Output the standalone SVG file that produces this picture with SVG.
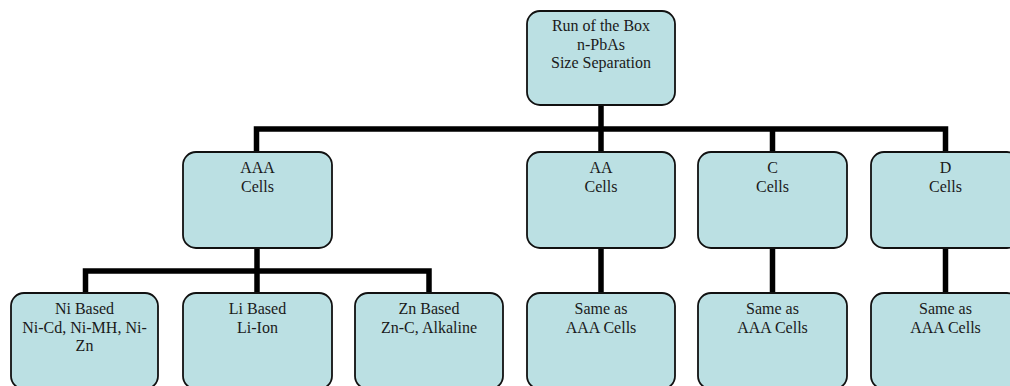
<svg xmlns="http://www.w3.org/2000/svg" width="1010" height="386" viewBox="0 0 1010 386">
  <style>
    .box { fill: #BBE0E3; stroke: #111; stroke-width: 1.8; }
    .lbl { font-family: "Liberation Serif", "Times New Roman", serif; font-size: 16px; fill: #1a1a1a; text-anchor: middle; }
    .wire { fill: none; stroke: #000; stroke-width: 5.5; stroke-linejoin: miter; stroke-linecap: butt; }
  </style>
  <rect width="1010" height="386" fill="#ffffff"/>

  <!-- connectors -->
  <g id="connectors">
    <path class="wire" d="M601 105 V152"/>
    <path class="wire" d="M256.5 152 V129 H945.5 V152"/>
    <path class="wire" d="M772.5 129 V152"/>
    <path class="wire" d="M257 248 V293"/>
    <path class="wire" d="M85.5 293 V271 H429 V293"/>
    <path class="wire" d="M601 248 V293"/>
    <path class="wire" d="M772.5 248 V293"/>
    <path class="wire" d="M945.5 248 V293"/>
  </g>

  <!-- root -->
  <g id="node-root">
    <rect class="box" x="527" y="11" width="148" height="94" rx="13"/>
    <text class="lbl" x="601" y="31">Run of the Box</text>
    <text class="lbl" x="601" y="49.5">n-PbAs</text>
    <text class="lbl" x="601" y="68">Size Separation</text>
  </g>

  <!-- second level -->
  <g id="node-aaa">
    <rect class="box" x="183" y="152" width="149" height="96" rx="13"/>
    <text class="lbl" x="257.5" y="173">AAA</text>
    <text class="lbl" x="257.5" y="191.5">Cells</text>
  </g>
  <g id="node-aa">
    <rect class="box" x="527" y="152" width="148" height="96" rx="13"/>
    <text class="lbl" x="601" y="173">AA</text>
    <text class="lbl" x="601" y="191.5">Cells</text>
  </g>
  <g id="node-c">
    <rect class="box" x="698" y="152" width="149" height="96" rx="13"/>
    <text class="lbl" x="772.5" y="173">C</text>
    <text class="lbl" x="772.5" y="191.5">Cells</text>
  </g>
  <g id="node-d">
    <rect class="box" x="871" y="152" width="149" height="96" rx="13"/>
    <text class="lbl" x="945.5" y="173">D</text>
    <text class="lbl" x="945.5" y="191.5">Cells</text>
  </g>

  <!-- third level -->
  <g id="node-ni">
    <rect class="box" x="11" y="293" width="147" height="96" rx="13"/>
    <text class="lbl" x="84.5" y="314">Ni Based</text>
    <text class="lbl" x="84.5" y="332.5">Ni-Cd, Ni-MH, Ni-</text>
    <text class="lbl" x="84.5" y="351">Zn</text>
  </g>
  <g id="node-li">
    <rect class="box" x="183" y="293" width="149" height="96" rx="13"/>
    <text class="lbl" x="257.5" y="314">Li Based</text>
    <text class="lbl" x="257.5" y="332.5">Li-Ion</text>
  </g>
  <g id="node-zn">
    <rect class="box" x="355" y="293" width="148" height="96" rx="13"/>
    <text class="lbl" x="429" y="314">Zn Based</text>
    <text class="lbl" x="429" y="332.5">Zn-C, Alkaline</text>
  </g>
  <g id="node-aa-sub">
    <rect class="box" x="527" y="293" width="148" height="96" rx="13"/>
    <text class="lbl" x="601" y="314">Same as</text>
    <text class="lbl" x="601" y="332.5">AAA Cells</text>
  </g>
  <g id="node-c-sub">
    <rect class="box" x="698" y="293" width="149" height="96" rx="13"/>
    <text class="lbl" x="772.5" y="314">Same as</text>
    <text class="lbl" x="772.5" y="332.5">AAA Cells</text>
  </g>
  <g id="node-d-sub">
    <rect class="box" x="871" y="293" width="149" height="96" rx="13"/>
    <text class="lbl" x="945.5" y="314">Same as</text>
    <text class="lbl" x="945.5" y="332.5">AAA Cells</text>
  </g>
</svg>
